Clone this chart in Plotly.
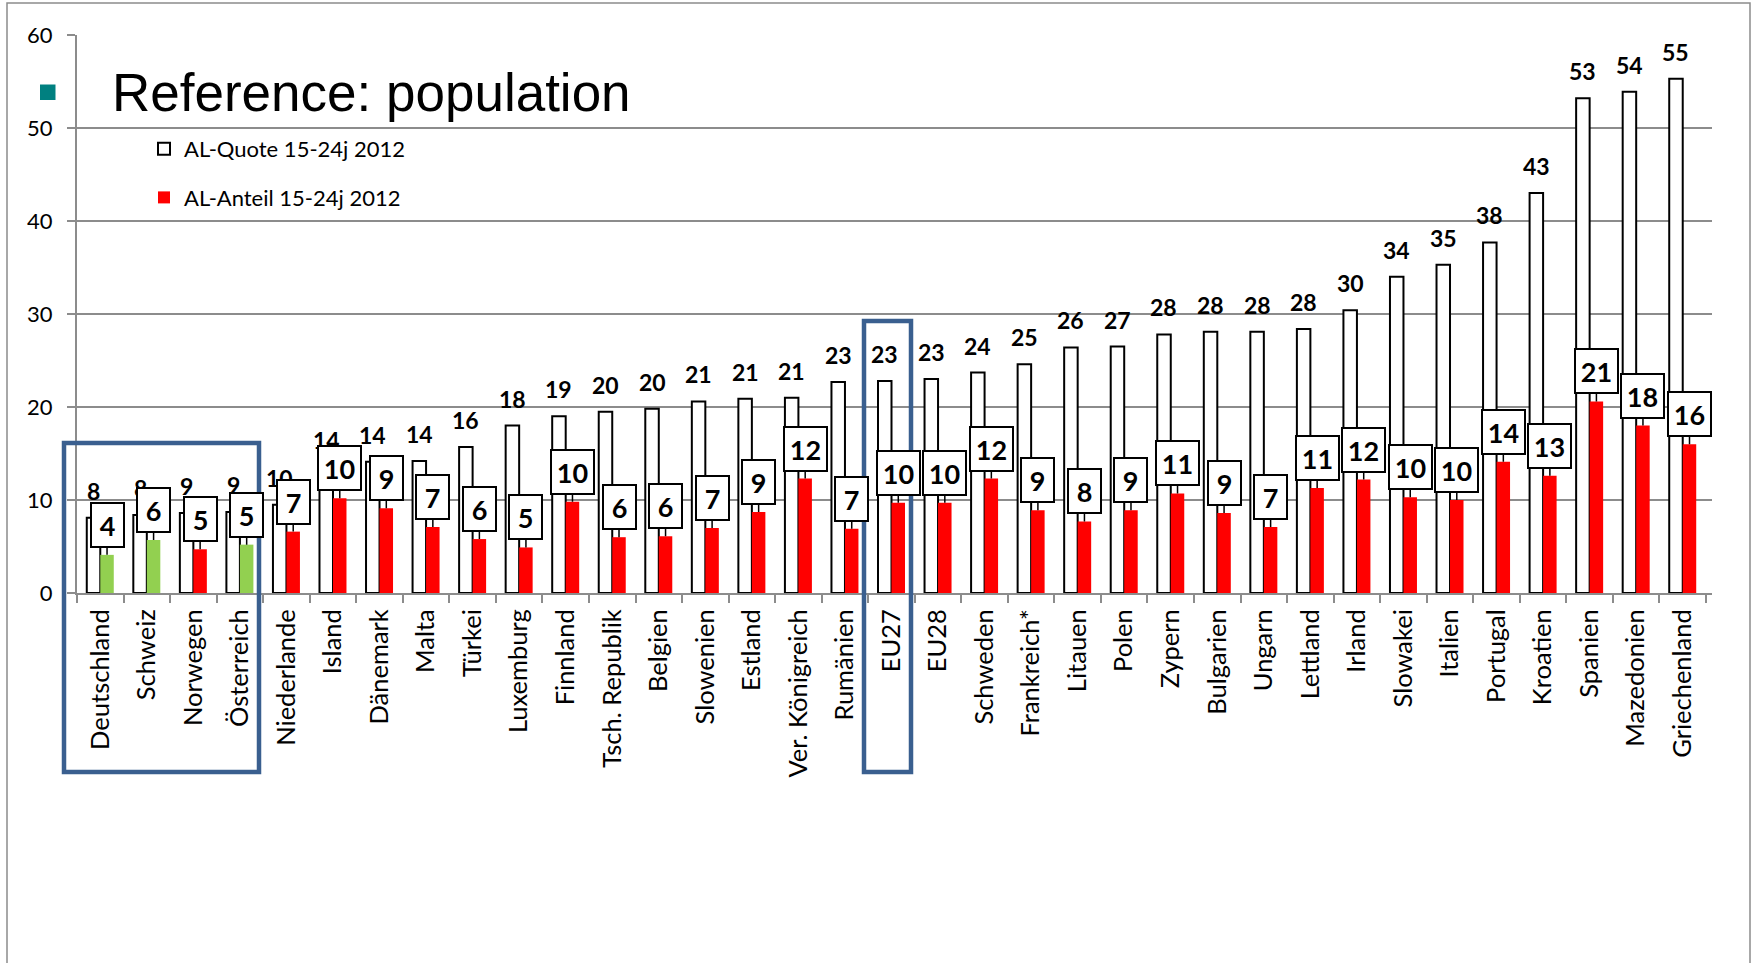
import plotly.graph_objects as go

# ---- data ----
countries = ["Deutschland", "Schweiz", "Norwegen", "Österreich", "Niederlande", "Island",
             "Dänemark", "Malta", "Türkei", "Luxemburg", "Finnland", "Tsch. Republik",
             "Belgien", "Slowenien", "Estland", "Ver. Königreich", "Rumänien", "EU27",
             "EU28", "Schweden", "Frankreich*", "Litauen", "Polen", "Zypern", "Bulgarien",
             "Ungarn", "Lettland", "Irland", "Slowakei", "Italien", "Portugal", "Kroatien",
             "Spanien", "Mazedonien", "Griechenland"]
quote_2012 = [8.1, 8.4, 8.6, 8.7, 9.5, 13.6, 14.1, 14.2, 15.7, 18.0, 19.0, 19.5, 19.8, 20.6,
              20.9, 21.0, 22.7, 22.8, 23.0, 23.7, 24.6, 26.4, 26.5, 27.8, 28.1, 28.1, 28.4,
              30.4, 34.0, 35.3, 37.7, 43.0, 53.2, 53.9, 55.3]
anteil_2012 = [4.1, 5.7, 4.7, 5.2, 6.6, 10.2, 9.1, 7.1, 5.8, 4.9, 9.8, 6.0, 6.1, 7.0, 8.7,
               12.3, 6.9, 9.7, 9.7, 12.3, 8.9, 7.7, 8.9, 10.7, 8.6, 7.1, 11.3, 12.2, 10.3,
               10.0, 14.1, 12.6, 20.6, 18.0, 16.0]
highlight = ["Deutschland", "Schweiz", "Österreich"]
y_ticks = [0, 10, 20, 30, 40, 50, 60]
series_names = ["AL-Quote 15-24j 2012", "AL-Anteil 15-24j 2012"]
title_text = "Reference: population"

# ---- layout constants ----
W, H = 1752, 963
ML, MR, MT, MB = 77, 40, 35, 370
BARGAP = 0.42
plot_w = W - ML - MR
plot_h = H - MT - MB
cat_w = plot_w / len(countries)
bar_w = cat_w * (1 - BARGAP) / 2
GRID = "#8c8c8c"
BLUE = "#3a5f8f"
CAL = "Lato"


def px_x(p):
    return (p - ML) / plot_w


def px_y(p):
    return (H - MB - p) / plot_h


def rnd(v):
    return str(int(v + 0.5))


red_vals = [None if c in highlight else v for c, v in zip(countries, anteil_2012)]
green_vals = [v if c in highlight else None for c, v in zip(countries, anteil_2012)]

fig = go.Figure()
fig.add_trace(go.Bar(x=countries, y=quote_2012, name=series_names[0],
                     marker=dict(color="white", line=dict(color="black", width=2)),
                     offsetgroup="q", legendgroup="q"))
fig.add_trace(go.Bar(x=countries, y=red_vals, name=series_names[1],
                     marker=dict(color="#ff0000", line=dict(width=0)),
                     offsetgroup="a", legendgroup="a"))
fig.add_trace(go.Bar(x=countries, y=green_vals, name=series_names[1] + " (Referenz)",
                     marker=dict(color="#92d050", line=dict(width=0)),
                     offsetgroup="a", legendgroup="a", showlegend=False))

annotations = []
# labels above white bars
for c, v in zip(countries, quote_2012):
    annotations.append(dict(x=c, y=v, xref="x", yref="y", text=rnd(v), showarrow=False,
                            xshift=-bar_w / 2, yshift=11, yanchor="bottom",
                            font=dict(family=CAL, size=23, color="black", weight="bold")))
# boxed labels above red/green bars
for c, v in zip(countries, anteil_2012):
    t = rnd(v)
    annotations.append(dict(x=c, y=v, xref="x", yref="y", text=t, showarrow=True,
                            arrowhead=0, arrowwidth=1.5, arrowcolor="black",
                            ax=0, ay=-30, xshift=bar_w / 2,
                            width=29 if len(t) == 1 else 39, height=40,
                            bgcolor="white", bordercolor="black", borderwidth=2, borderpad=1,
                            font=dict(family=CAL, size=27, color="black", weight="bold")))
# big in-chart heading
annotations.append(dict(x=px_x(110), y=px_y(124), xref="paper", yref="paper",
                        xanchor="left", yanchor="bottom", showarrow=False, text=title_text,
                        font=dict(family="Liberation Sans", size=53, color="black")))

shapes = [
    # outer frame
    dict(type="rect", xref="paper", yref="paper", x0=px_x(7), x1=px_x(1750),
         y0=px_y(990), y1=px_y(3), line=dict(color=GRID, width=1.5), layer="below"),
    # teal bullet
    dict(type="rect", xref="paper", yref="paper", x0=px_x(40), x1=px_x(55.5),
         y0=px_y(100), y1=px_y(84.5), fillcolor="#008080", line=dict(width=0)),
    # highlight boxes
    dict(type="rect", xref="paper", yref="paper", x0=px_x(64), x1=px_x(259),
         y0=px_y(772), y1=px_y(443), line=dict(color=BLUE, width=4.5), layer="above"),
    dict(type="rect", xref="paper", yref="paper", x0=px_x(864), x1=px_x(911),
         y0=px_y(772), y1=px_y(321), line=dict(color=BLUE, width=4.5), layer="above"),
]

fig.update_layout(
    width=W, height=H,
    margin=dict(l=ML, r=MR, t=MT, b=MB),
    paper_bgcolor="white", plot_bgcolor="white",
    barmode="group", bargap=BARGAP, bargroupgap=0,
    showlegend=True,
    legend=dict(x=px_x(144), y=px_y(128), xanchor="left", yanchor="top",
                font=dict(family=CAL, size=22, color="black"),
                traceorder="grouped", tracegroupgap=17, bgcolor="rgba(0,0,0,0)",
                itemwidth=30),
    xaxis=dict(type="category", showline=True, linecolor=GRID, linewidth=2,
               ticks="outside", tickson="boundaries", ticklen=8, tickcolor=GRID, tickwidth=2,
               tickangle=-90, tickfont=dict(family=CAL, size=25.5, color="black"),
               ticklabelstandoff=4, showgrid=False),
    yaxis=dict(range=[0, 60], tickvals=y_ticks, showline=True, linecolor=GRID, linewidth=2,
               ticks="outside", ticklen=8, tickcolor=GRID, tickwidth=2,
               showgrid=True, gridcolor=GRID, gridwidth=2, zeroline=False,
               ticklabelstandoff=10,
               tickfont=dict(family=CAL, size=22, color="black")),
    annotations=annotations,
    shapes=shapes,
)

fig.write_html("out.html", config={"displayModeBar": False},
               post_script="document.body.style.margin='0px';")
